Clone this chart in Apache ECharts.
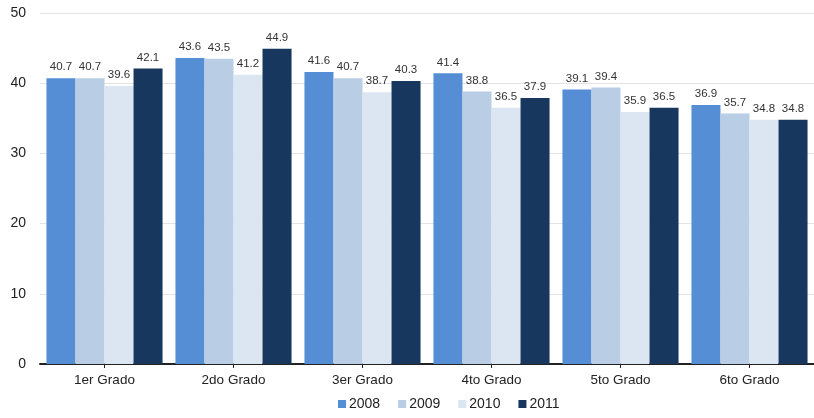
<!DOCTYPE html>
<html><head><meta charset="utf-8">
<script src="https://cdn.jsdelivr.net/npm/echarts@6/dist/echarts.min.js"></script>
<style>html,body{margin:0;padding:0;background:#fff}#c{width:814px;height:418px}</style>
</head><body><div id="c"></div>
<script>
const categories = ['1er Grado','2do Grado','3er Grado','4to Grado','5to Grado','6to Grado'];
const seriesNames = ['2008','2009','2010','2011'];
const v2008 = [40.7, 43.6, 41.6, 41.4, 39.1, 36.9];
const v2009 = [40.7, 43.5, 40.7, 38.8, 39.4, 35.7];
const v2010 = [39.6, 41.2, 38.7, 36.5, 35.9, 34.8];
const v2011 = [42.1, 44.9, 40.3, 37.9, 36.5, 34.8];
const colors = ['#558ED5','#B9CDE5','#DCE6F2','#17375E'];
const values = [v2008, v2009, v2010, v2011];
const chart = echarts.init(document.getElementById('c'));
chart.setOption({
  animation: false,
  textStyle: {fontFamily: 'Liberation Sans, Arial, sans-serif'},
  grid: {left: 40, width: 780, top: 13, bottom: 54},
  legend: {
    bottom: 2, left: 333, itemWidth: 8, itemHeight: 8, itemGap: 18,
    icon: 'rect',
    textStyle: {fontSize: 14, color: '#222', padding: [0,0,0,-2]},
    data: seriesNames
  },
  xAxis: {
    type: 'category', data: categories,
    axisLine: {lineStyle: {color: '#222', width: 2}},
    axisTick: {show: true, alignWithLabel: true, length: 4, lineStyle: {color: '#222'}},
    axisLabel: {fontSize: 13.5, color: '#222', margin: 9}
  },
  yAxis: {
    type: 'value', min: 0, max: 50, interval: 10,
    axisLine: {show: false}, axisTick: {show: false},
    splitLine: {lineStyle: {color: '#e3e3e3'}},
    axisLabel: {fontSize: 14, color: '#222', margin: 14}
  },
  series: values.map((d, i) => ({
    name: seriesNames[i], type: 'bar', data: d,
    barGap: '0%', barCategoryGap: '10%',
    itemStyle: {color: colors[i]},
    label: {show: true, position: 'top', fontSize: 11.5, color: '#333', distance: 5, formatter: p => p.value.toFixed(1)}
  }))
});
</script></body></html>
